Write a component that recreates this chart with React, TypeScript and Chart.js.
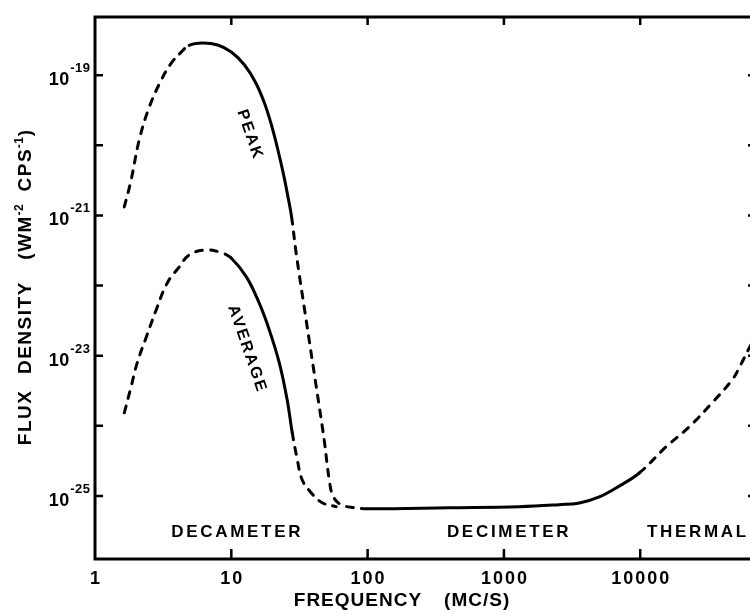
import { useEffect, useRef } from 'react';
import { Chart, registerables } from 'chart.js';
Chart.register(...registerables);

// ---- data (frequency in Mc/s, flux density in W m^-2 cps^-1) ----
const peakFreq = [1.64, 1.84, 2.11, 2.5, 3.06, 3.62, 4.29, 4.91, 6.11, 7.95, 10.0, 12.5, 15.0, 17.5, 19.7, 21.8, 24.2, 26.3, 27.7, 29.9, 35.4, 42.0, 48.0, 52.3, 56.0, 64.0, 79.8, 103, 397, 1295, 2540, 3580, 5010, 7060, 9840, 15500, 22900, 33700, 47300, 53200, 63100, 69800];
const peakFlux = [1.32e-21, 3.19e-21, 1.19e-20, 3.5e-20, 8.49e-20, 1.48e-19, 2.13e-19, 2.67e-19, 2.88e-19, 2.7e-19, 2.14e-19, 1.4e-19, 8.0e-20, 4.02e-20, 1.95e-20, 9.16e-21, 3.78e-21, 1.66e-21, 9.5e-22, 2.91e-22, 3.23e-23, 3.6e-24, 6.32e-25, 1.7e-25, 9.75e-26, 7.5e-26, 6.79e-26, 6.57e-26, 6.79e-26, 7.02e-26, 7.5e-26, 7.93e-26, 9.66e-26, 1.39e-25, 2.12e-25, 5.02e-25, 9.68e-25, 2.13e-24, 4.52e-24, 6.7e-24, 1.29e-23, 1.79e-23];
const peakObserved = [[4.91, 27.7], [103, 9840]];

const averageFreq = [1.64, 1.84, 2.04, 2.38, 2.81, 3.39, 4.15, 4.91, 6.54, 8.58, 9.98, 12.9, 16.0, 19.0, 22.5, 25.7, 28.0, 30.5, 33.1, 38.5, 46.4, 58.9];
const averageFlux = [1.53e-24, 3.6e-24, 7.89e-24, 1.85e-23, 4.49e-23, 1.09e-22, 1.84e-22, 2.73e-22, 3.21e-22, 2.91e-22, 2.47e-22, 1.33e-22, 5.65e-23, 2.33e-23, 7.89e-24, 2.34e-24, 7.94e-25, 3.28e-25, 1.7e-25, 1.11e-25, 8.0e-26, 7.02e-26];
const averageObserved = [[9.98, 28.0]];

const xTickValues = [1, 10, 100, 1000, 10000];
const xTickLabels = ['1', '10', '100', '1000', '10000'];
const yTickExponents = [-19, -20, -21, -22, -23, -24, -25];
const yLabelExponents = [-19, -21, -23, -25];

const regionNames = ['DECAMETER', 'DECIMETER', 'THERMAL'];
const regionFreq = [10.8, 1067, 25900];
const curveNames = ['PEAK', 'AVERAGE'];
const curveNameFreq = [13.6, 13.0];
const curveNameFlux = [1.45e-20, 1.28e-23];

const xTitleParts = ['FREQUENCY', '(MC/S)'];
const yTitleParts = ['FLUX', 'DENSITY', '(WM', '-2', 'CPS', '-1', ')'];

const X_MIN = 1;
const X_MAX = 70700;
const Y_MIN = Math.pow(10, -25.9);
const Y_MAX = Math.pow(10, -18.17);

const FAMILY = '"Liberation Sans", Arial, sans-serif';

function drawText(ctx: CanvasRenderingContext2D, s: string, x: number, y: number, font: string, spacing: number, align: 'left' | 'center' | 'right' = 'left') {
  ctx.font = font;
  (ctx as any).letterSpacing = spacing + 'px';
  const w = ctx.measureText(s).width - spacing;
  const sx = align === 'center' ? x - w / 2 : align === 'right' ? x - w : x;
  ctx.textAlign = 'left';
  ctx.fillText(s, sx, y);
  return w;
}
function measure(ctx: CanvasRenderingContext2D, s: string, font: string, spacing: number) {
  ctx.font = font;
  (ctx as any).letterSpacing = spacing + 'px';
  return ctx.measureText(s).width - spacing;
}

const paperPlugin = {
  id: 'paper',
  afterDatasetsDraw(chart: any) {
    const { ctx, chartArea: a } = chart;
    const xs = chart.scales.x;
    const ys = chart.scales.y;
    ctx.save();
    ctx.strokeStyle = '#000';
    ctx.fillStyle = '#000';
    ctx.lineWidth = 3;
    ctx.strokeRect(a.left, a.top, a.right - a.left, a.bottom - a.top);

    ctx.lineWidth = 2.5;
    ctx.beginPath();
    xTickValues.forEach((v) => {
      if (v === xTickValues[0]) return;
      const px = xs.getPixelForValue(v);
      ctx.moveTo(px, a.bottom);
      ctx.lineTo(px, a.bottom - 10);
      ctx.moveTo(px, a.top);
      ctx.lineTo(px, a.top + 8);
    });
    yTickExponents.forEach((e) => {
      const py = ys.getPixelForValue(Math.pow(10, e));
      ctx.moveTo(a.left, py);
      ctx.lineTo(a.left + 8, py);
      ctx.moveTo(a.right, py);
      ctx.lineTo(a.right - 8, py);
    });
    ctx.stroke();

    ctx.textBaseline = 'alphabetic';
    xTickValues.forEach((v, i) => {
      drawText(ctx, xTickLabels[i], xs.getPixelForValue(v), a.bottom + 25, `bold 18px ${FAMILY}`, 2, 'center');
    });
    yLabelExponents.forEach((e) => {
      const py = ys.getPixelForValue(Math.pow(10, e));
      const sup = '-' + String(-e);
      const supFont = `bold 13px ${FAMILY}`;
      const supW = measure(ctx, sup, supFont, 0.5);
      drawText(ctx, sup, a.left - 5, py - 3, supFont, 0.5, 'right');
      drawText(ctx, '10', a.left - 6 - supW, py + 10, `bold 18px ${FAMILY}`, 0.5, 'right');
    });
    regionNames.forEach((n, i) => {
      drawText(ctx, n, xs.getPixelForValue(regionFreq[i]), a.bottom - 22, `bold 17px ${FAMILY}`, 2.7, 'center');
    });
    curveNames.forEach((n, i) => {
      ctx.save();
      ctx.translate(xs.getPixelForValue(curveNameFreq[i]), ys.getPixelForValue(curveNameFlux[i]));
      ctx.rotate((71 * Math.PI) / 180);
      ctx.textBaseline = 'middle';
      drawText(ctx, n, 0, 0, `bold 16px ${FAMILY}`, 2, 'center');
      ctx.restore();
    });
    {
      const f = `bold 19px ${FAMILY}`;
      const w1 = measure(ctx, xTitleParts[0], f, 1);
      const w2 = measure(ctx, xTitleParts[1], f, 1);
      const gap = 23;
      const cx = (a.left + a.right) / 2 - 24;
      const start = cx - (w1 + gap + w2) / 2;
      drawText(ctx, xTitleParts[0], start, a.bottom + 47, f, 1);
      drawText(ctx, xTitleParts[1], start + w1 + gap, a.bottom + 47, f, 1);
    }
    {
      const big = `bold 19px ${FAMILY}`;
      const small = `bold 12px ${FAMILY}`;
      const gaps = [16, 22, 0, 12, 0, 0, 0];
      const isSup = [false, false, false, true, false, true, false];
      let total = 0;
      const widths = yTitleParts.map((p, i) => measure(ctx, p, isSup[i] ? small : big, isSup[i] ? 0.5 : 1.5));
      widths.forEach((w, i) => { total += w + gaps[i] + 1; });
      ctx.save();
      ctx.translate(a.left - 71, 287);
      ctx.rotate(-Math.PI / 2);
      let x = -total / 2;
      yTitleParts.forEach((p, i) => {
        if (isSup[i]) drawText(ctx, p, x, -1, small, 0.5);
        else drawText(ctx, p, x, 7, big, 1.5);
        x += widths[i] + gaps[i] + 1;
      });
      ctx.restore();
    }
    ctx.restore();
  },
};

function dashUnlessObserved(ranges: number[][]) {
  return (c: any) => {
    const p = c.p0.parsed.x;
    const q = c.p1.parsed.x;
    return ranges.some(([lo, hi]) => p >= lo * 0.999 && q <= hi * 1.001) ? [] : [7, 8];
  };
}

export default function App() {
  const ref = useRef<HTMLCanvasElement>(null);
  useEffect(() => {
    if (!ref.current) return;
    const line = (freq: number[], flux: number[], ranges: number[][], label: string) => ({
      label,
      data: freq.map((x, i) => ({ x, y: flux[i] })),
      borderColor: '#000',
      borderWidth: 3,
      borderCapStyle: 'round' as const,
      pointRadius: 0,
      fill: false,
      tension: 0.4,
      segment: { borderDash: dashUnlessObserved(ranges) },
    });
    const chart = new Chart(ref.current, {
      type: 'line',
      data: {
        datasets: [
          line(peakFreq, peakFlux, peakObserved, 'PEAK'),
          line(averageFreq, averageFlux, averageObserved, 'AVERAGE'),
        ],
      },
      options: {
        animation: false,
        responsive: false,
        layout: { autoPadding: false, padding: { left: 95, top: 17, right: 0, bottom: 51 } },
        plugins: { legend: { display: false }, tooltip: { enabled: false } },
        scales: {
          x: {
            type: 'logarithmic', min: X_MIN, max: X_MAX, bounds: 'data', display: false,
            afterBuildTicks: (s: any) => { s.min = X_MIN; s.max = X_MAX; },
          },
          y: {
            type: 'logarithmic', min: Y_MIN, max: Y_MAX, bounds: 'data', display: false,
            afterBuildTicks: (s: any) => { s.min = Y_MIN; s.max = Y_MAX; },
          },
        },
      },
      plugins: [paperPlugin],
    } as any);
    return () => chart.destroy();
  }, []);
  return (
    <div style={{ position: 'absolute', left: 0, top: 0, width: 750, height: 610, overflow: 'hidden', background: '#fff' }}>
      <canvas ref={ref} width={756} height={610} style={{ display: 'block', width: 756, height: 610 }} />
    </div>
  );
}
